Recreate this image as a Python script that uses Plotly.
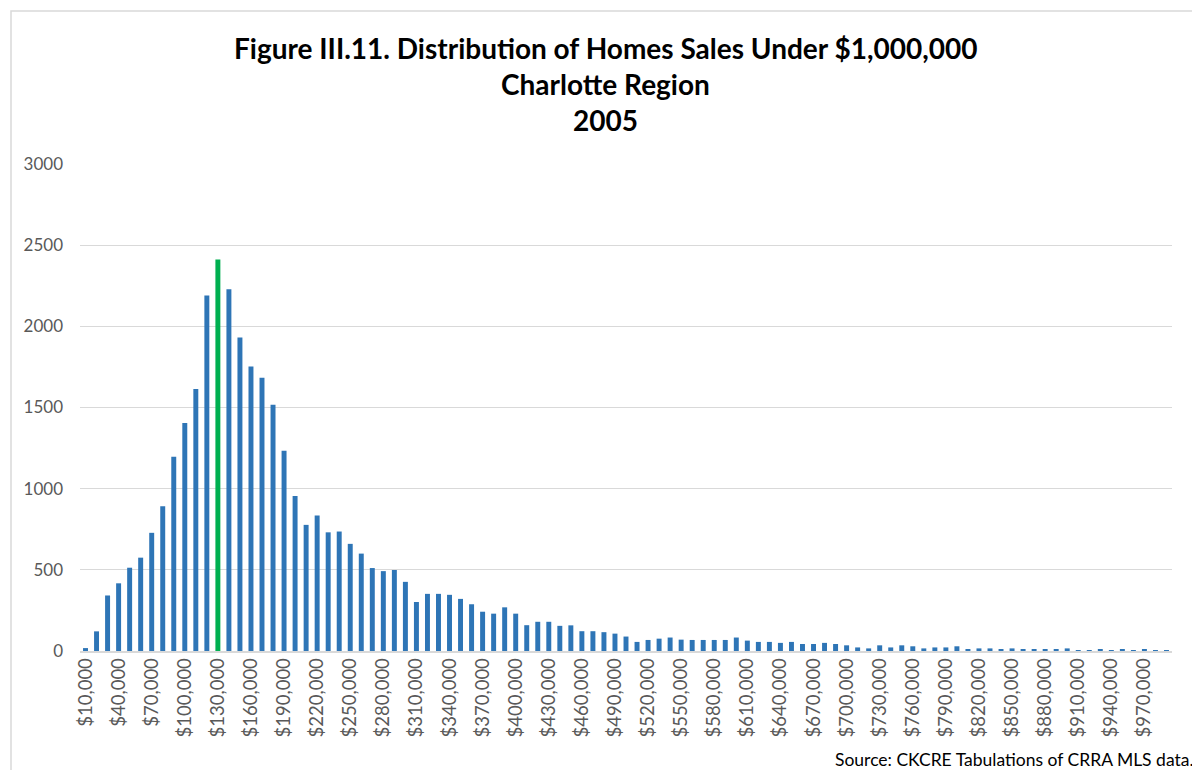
import plotly.graph_objects as go

# price bins (upper bound of each $10,000 bin)
price_bins = list(range(10000, 1000000, 10000))
bin_labels = [f"${p:,}" for p in price_bins]

# number of home sales per bin
sales = [
    18, 121, 342, 417, 513, 575, 728, 892, 1196, 1405,
    1614, 2190, 2411, 2229, 1931, 1753, 1683, 1517, 1233, 955,
    777, 834, 731, 736, 660, 600, 511, 492, 499, 426,
    302, 352, 352, 346, 321, 288, 242, 230, 269, 230,
    159, 180, 180, 155, 158, 122, 122, 116, 107, 89,
    56, 68, 76, 83, 70, 68, 68, 68, 68, 83,
    64, 56, 56, 50, 56, 43, 43, 50, 43, 35,
    22, 16, 35, 22, 35, 29, 16, 22, 22, 29,
    12, 16, 16, 12, 16, 12, 12, 12, 12, 16,
    6, 6, 12, 6, 12, 6, 12, 6, 6,
]

highlight_bin = "$130,000"
y_ticks = [0, 500, 1000, 1500, 2000, 2500, 3000]
title_lines = [
    "Figure III.11. Distribution of Homes Sales Under $1,000,000",
    "Charlotte Region",
    "2005",
]
source_note = "Source: CKCRE Tabulations of CRRA MLS data."

BLUE = "#2E75B6"
GREEN = "#00B050"
FONT = "Lato, Calibri, sans-serif"

bar_colors = [GREEN if lbl == highlight_bin else BLUE for lbl in bin_labels]

fig = go.Figure()
fig.add_trace(go.Bar(
    x=bin_labels,
    y=sales,
    marker=dict(color=bar_colors, line=dict(width=0)),
    hovertemplate="%{x}<br>%{y}<extra></extra>",
))

# the page body has an 8px margin, so work in page pixels and shift
OFF = 8
W, H = 1200 - OFF, 770 - OFF
L, T = 80 - OFF, 164 - OFF
R = W - (1172 - OFF)
B = H - (651 - OFF)
pw, ph = W - L - R, H - T - B


def px_x(px):
    return (px - OFF - L) / pw


def px_y(py):
    return (H - B - (py - OFF)) / ph


annotations = []
for line, py in zip(title_lines, [48, 84, 120]):
    annotations.append(dict(
        text=f"<b>{line}</b>", x=px_x(605), y=px_y(py), xref="paper", yref="paper",
        xanchor="center", yanchor="middle", showarrow=False,
        font=dict(family=FONT, size=28, color="#000000"),
    ))
annotations.append(dict(
    text=source_note, x=px_x(1196), y=px_y(759), xref="paper", yref="paper",
    xanchor="right", yanchor="middle", showarrow=False,
    font=dict(family=FONT, size=17.5, color="#000000"),
))

fig.update_layout(
    width=W,
    height=H,
    margin=dict(l=L, r=R, t=T, b=B),
    paper_bgcolor="white",
    plot_bgcolor="white",
    font=dict(family=FONT, color="#595959", size=17),
    showlegend=False,
    bargap=0.55,
    annotations=annotations,
    shapes=[dict(
        type="rect", xref="paper", yref="paper",
        x0=px_x(11), x1=px_x(1215), y0=px_y(785), y1=px_y(11),
        line=dict(color="#d9d9d9", width=1.5), fillcolor="rgba(0,0,0,0)",
        layer="below",
    )],
    xaxis=dict(
        type="category",
        tickvals=bin_labels[::3],
        ticktext=bin_labels[::3],
        tickangle=-90,
        ticks="",
        showgrid=False,
        showline=True,
        linecolor="#d9d9d9",
        linewidth=1.5,
        ticklabelstandoff=-2,
        tickfont=dict(family=FONT, size=18.5, color="#595959"),
    ),
    yaxis=dict(
        range=[0, 3000],
        tickvals=y_ticks,
        showgrid=True,
        gridcolor="#d9d9d9",
        gridwidth=1,
        zeroline=False,
        showline=False,
        ticks="",
        ticklabelstandoff=16,
        tickfont=dict(family=FONT, size=17, color="#595959"),
    ),
)

fig.write_html("out.html")
